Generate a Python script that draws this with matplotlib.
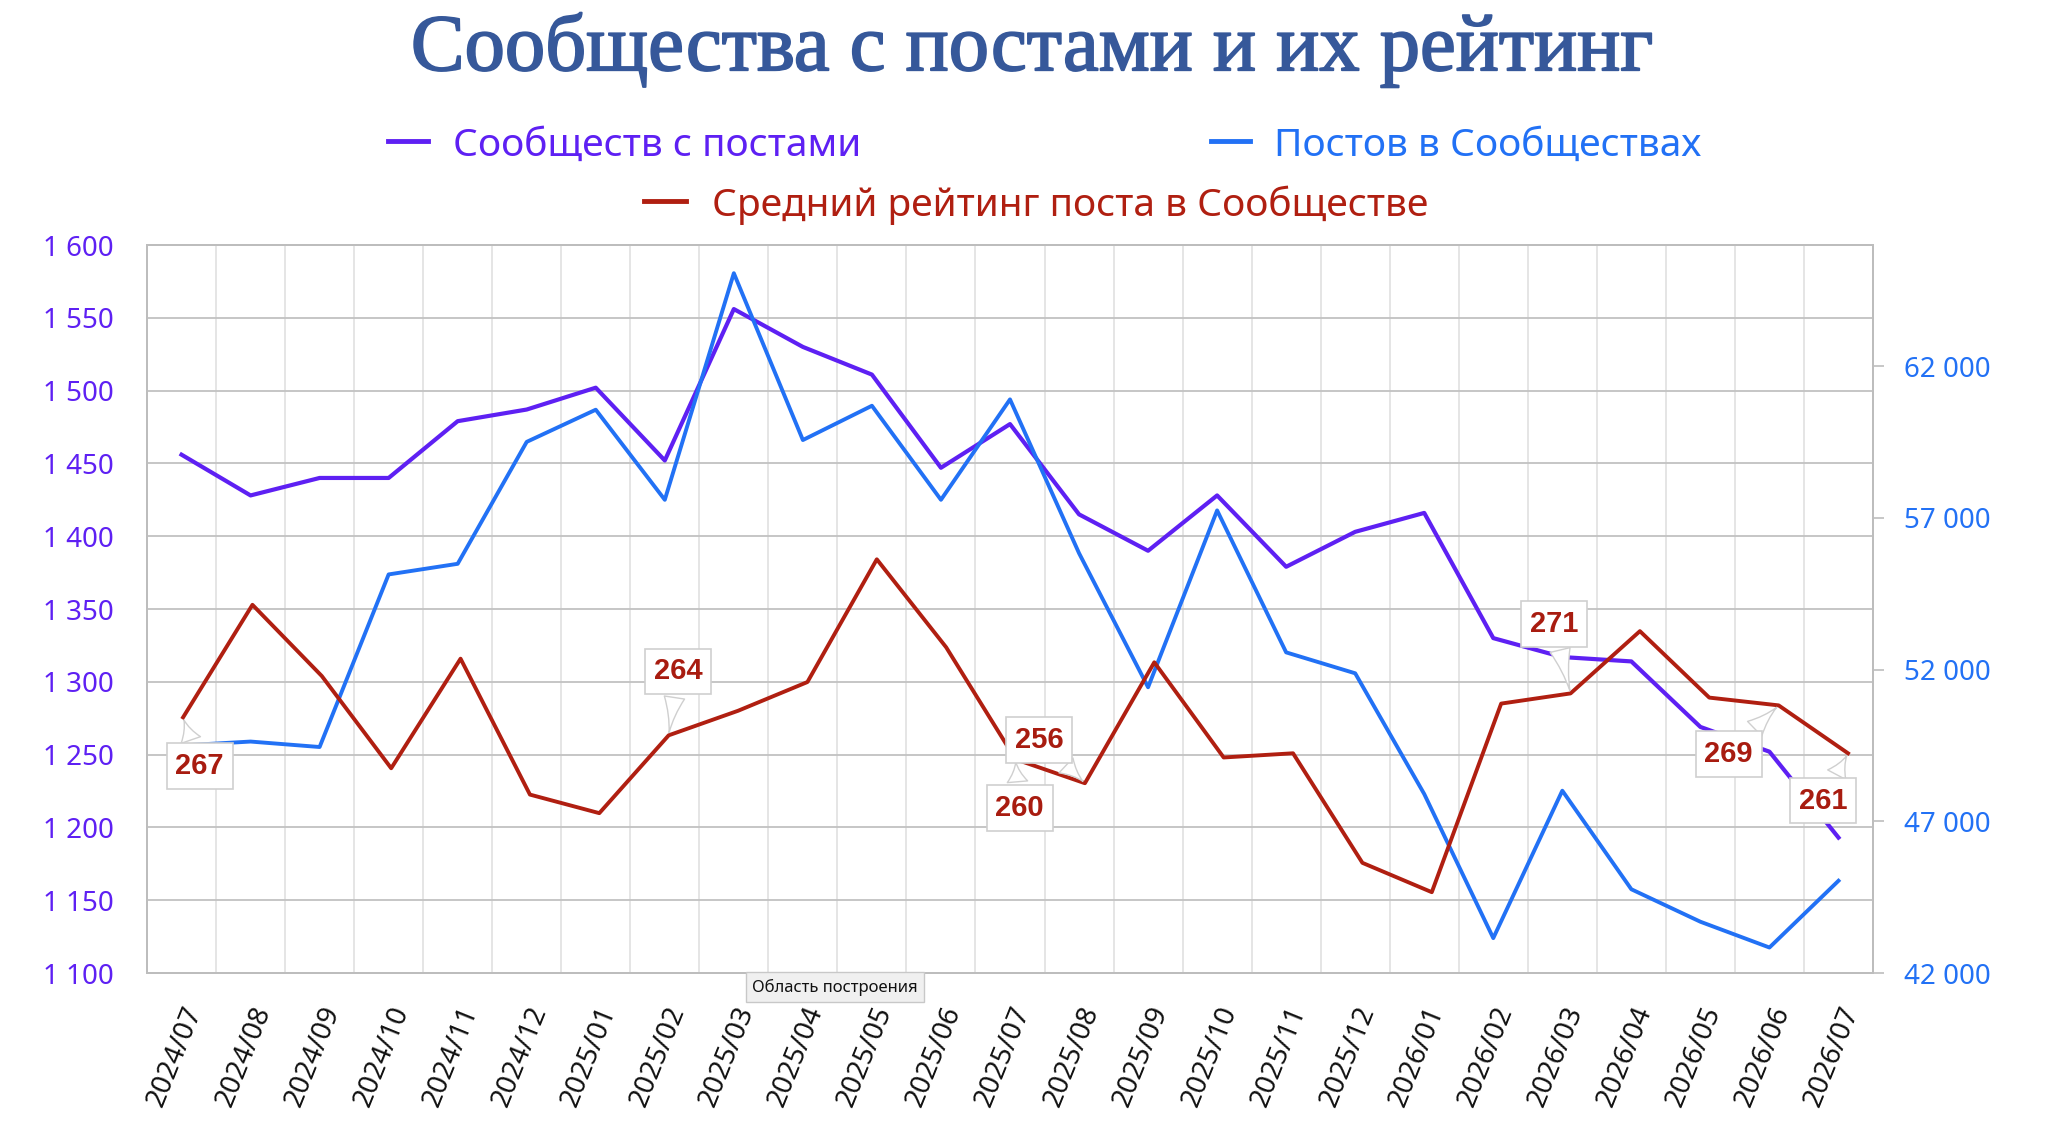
import matplotlib
matplotlib.use('Agg')
import matplotlib.pyplot as plt
import matplotlib.patheffects as pe
import numpy as np
from matplotlib.lines import Line2D
from matplotlib.ticker import FuncFormatter

months = ['2024/07', '2024/08', '2024/09', '2024/10', '2024/11', '2024/12',
          '2025/01', '2025/02', '2025/03', '2025/04', '2025/05', '2025/06',
          '2025/07', '2025/08', '2025/09', '2025/10', '2025/11', '2025/12',
          '2026/01', '2026/02', '2026/03', '2026/04', '2026/05', '2026/06',
          '2026/07']
communities = [1456, 1428, 1440, 1440, 1479, 1487, 1502, 1452, 1556, 1530,
               1511, 1447, 1477, 1415, 1390, 1428, 1379, 1403, 1416, 1330,
               1317, 1314, 1269, 1252, 1193]
posts = [49500, 49630, 49450, 55140, 55490, 59510, 60570, 57600, 65070, 59570,
         60700, 57600, 60910, 55840, 51420, 57250, 52570, 51880, 47900, 43150,
         48010, 44760, 43690, 42840, 45040]
rating = [267, 285.8, 273.9, 258.5, 276.8, 254.1, 251.0, 264, 268.1, 272.9,
          293.4, 278.7, 260, 256, 276.2, 260.3, 261.0, 242.7, 237.8, 269.3,
          271, 281.4, 270.3, 269, 261]
label_idx = [0, 7, 12, 13, 20, 23, 24]
label_txt = ['267', '264', '260', '256', '271', '269', '261']

names = ['Сообществ с постами', 'Постов в Сообществах',
         'Средний рейтинг поста в Сообществе']
c_purple = '#5e20f3'
c_blue = '#2271f5'
c_red = '#b01f11'

plt.rcParams['font.family'] = ['Noto Sans', 'DejaVu Sans']

W, H = 2048, 1127
fig = plt.figure(figsize=(W / 100, H / 100), dpi=100)
rect = [147 / W, 1 - 973 / H, (1873 - 147) / W, (973 - 245) / H]

x = np.arange(len(months))

# left axis: communities
ax = fig.add_axes(rect)
ax.plot(x, communities, color=c_purple, lw=3.0, zorder=3)
ax.set_xlim(-0.5, len(months) - 0.5)
ax.set_ylim(1100, 1600)
ax.set_yticks(np.arange(1100, 1601, 50))
ax.yaxis.set_major_formatter(FuncFormatter(lambda v, p: f'{int(v):,}'.replace(',', ' ')))
ax.set_xticks(x)
ax.set_xticklabels(months, rotation=68, ha='right', va='top',
                   rotation_mode='anchor', fontsize=20, color='#111111')
ax.set_xticks(np.arange(-0.5, len(months), 1), minor=True)
ax.tick_params(axis='x', which='both', length=0, pad=21)
ax.tick_params(axis='y', length=0, pad=24, labelsize=20, labelcolor=c_purple)
ax.grid(True, axis='y', color='#c2c2c2', lw=1.3)
ax.grid(True, axis='x', which='minor', color='#dedede', lw=1.1)
ax.set_axisbelow(True)
for s in ax.spines.values():
    s.set_color('#bdbdbd')
    s.set_linewidth(1.3)

# right axis: posts
ax2 = ax.twinx()
ax2.plot(x, posts, color=c_blue, lw=2.8, zorder=2)
ax2.set_ylim(42000, 66000)
ax2.set_yticks(np.arange(42000, 62001, 5000))
ax2.yaxis.set_major_formatter(FuncFormatter(lambda v, p: f'{int(v):,}'.replace(',', ' ')))
ax2.tick_params(axis='y', length=8, width=1.2, color='#bdbdbd', pad=14,
                labelsize=20, labelcolor=c_blue)
for s in ax2.spines.values():
    s.set_color('#bdbdbd')
    s.set_linewidth(1.3)

# hidden axis: average rating
ax3 = fig.add_axes(rect)
ax3.set_axis_off()
ax3.patch.set_visible(False)
ax3.plot(x, rating, color=c_red, lw=2.8)
ax3.set_xlim(-0.52, 24.36)
ax3.set_ylim(224.3, 345.9)

offsets = [(12, -35), (7, 46), (3, -35), (-33, 31), (-12, 50), (-36, -35), (-18, -34)]
for i, t, off in zip(label_idx, label_txt, offsets):
    ax3.annotate(t, xy=(x[i], rating[i]), xytext=off, textcoords='offset points',
                 ha='center', va='center', fontsize=21, fontweight='bold',
                 family='Liberation Sans', color='#a81c10',
                 bbox=dict(boxstyle='square,pad=0.3', fc='white', ec='#cfcfcf', lw=1.2),
                 arrowprops=dict(arrowstyle='wedge,tail_width=0.7,shrink_factor=0.35',
                                 fc='white', ec='#cfcfcf', lw=1.0))

# title
fig.text(1032 / W, 1 - 50 / H, 'Сообщества с постами и их рейтинг',
         ha='center', va='center', fontsize=58, color='#36589a',
         family=['Liberation Serif', 'DejaVu Serif'],
         path_effects=[pe.withStroke(linewidth=1.3, foreground='#36589a')])

# legend drawn in figure coordinates
legend_items = [(388, 428, 453, 141, names[0], c_purple),
                (1211, 1250, 1274, 141, names[1], c_blue),
                (644, 686, 712, 201, names[2], c_red)]
for x1, x2, xt, yy, name, col in legend_items:
    fig.add_artist(Line2D([x1 / W, x2 / W], [1 - yy / H, 1 - yy / H],
                          color=col, lw=3.5, transform=fig.transFigure))
    fig.text(xt / W, 1 - yy / H, name, ha='left', va='center_baseline',
             fontsize=28, color=col)

# hover tooltip visible in the screenshot
fig.text(835 / W, 1 - 987 / H, 'Область построения', ha='center', va='center',
         fontsize=12, color='#111111', zorder=10,
         bbox=dict(boxstyle='square,pad=0.4', fc='#f0f0f0', ec='#c8c8c8', lw=1))

fig.savefig('out.png', dpi=100)
